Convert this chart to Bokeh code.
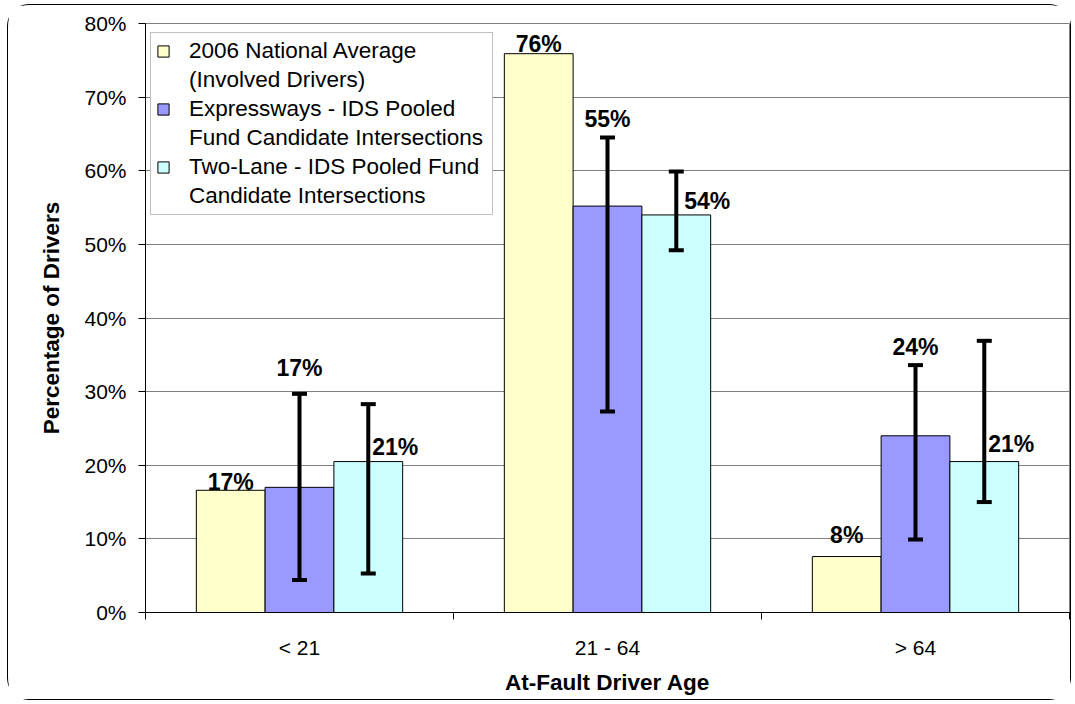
import math
from bokeh.plotting import figure
from bokeh.models import (ColumnDataSource, Range1d, LinearAxis,
                          FixedTicker, NumeralTickFormatter, Whisker, TeeHead, Legend, LegendItem)
from bokeh.transform import dodge
from bokeh.core.properties import value
from bokeh.embed import file_html
from bokeh.resources import INLINE

# ---- data (percent) ----
categories = ["< 21", "21 - 64", "> 64"]
national = [16.6, 75.9, 7.6]
express = [17.0, 55.2, 24.0]
twolane = [20.5, 54.0, 20.5]
express_lo = [4.4, 27.3, 9.9]
express_hi = [29.7, 64.5, 33.6]
twolane_lo = [5.3, 49.2, 15.0]
twolane_hi = [28.3, 59.9, 36.9]
series_names = [["2006 National Average", "(Involved Drivers)"],
                ["Expressways - IDS Pooled", "Fund Candidate Intersections"],
                ["Two-Lane - IDS Pooled Fund", "Candidate Intersections"]]
y_ticks = [0, 10, 20, 30, 40, 50, 60, 70, 80]

FONT = "Liberation Sans"
W, H = 1064, 696
BW = 0.2233

n = len(categories)
centers = [i + 0.5 for i in range(n)]
bounds = list(range(n + 1))


def pct(v):
    return f"{math.floor(v + 0.5)}%"


src = ColumnDataSource(dict(
    xc=centers,
    nat=[v / 100 for v in national],
    exp=[v / 100 for v in express],
    two=[v / 100 for v in twolane],
    exp_lo=[v / 100 for v in express_lo],
    exp_hi=[v / 100 for v in express_hi],
    two_lo=[v / 100 for v in twolane_lo],
    two_hi=[v / 100 for v in twolane_hi],
    nat_lab=[pct(v) for v in national],
    exp_lab=[pct(v) for v in express],
    two_lab=[pct(v) for v in twolane],
))

p = figure(width=W, height=H, output_backend="svg", toolbar_location=None,
           x_range=Range1d(0, n), y_range=Range1d(0, 0.8), x_axis_location=None,
           min_border_left=137, min_border_right=3, min_border_top=18, min_border_bottom=89)
p.styles = {"border": "1px solid black", "border-radius": "22px", "margin": "4px 0 0 7px"}

p.outline_line_color = "#808080"
p.outline_line_width = 1
p.xgrid.grid_line_color = None
p.ygrid.grid_line_color = "#808080"
p.ygrid.ticker = FixedTicker(ticks=[t / 100 for t in y_ticks])

yax = p.yaxis[0]
yax.ticker = FixedTicker(ticks=[t / 100 for t in y_ticks])
yax.formatter = NumeralTickFormatter(format="0%")
yax.axis_line_color = "black"
yax.major_tick_in = 0
yax.major_tick_out = 7
yax.minor_tick_line_color = None
yax.major_label_text_font = FONT
yax.major_label_text_font_size = "21px"
yax.major_label_text_color = "black"
yax.major_label_standoff = 12
yax.axis_label = "Percentage of Drivers"
yax.axis_label_text_font = FONT
yax.axis_label_text_font_size = "22.5px"
yax.axis_label_text_font_style = "bold"
yax.axis_label_text_color = "black"
yax.axis_label_standoff = 17

cat_ax = LinearAxis(ticker=FixedTicker(ticks=centers, minor_ticks=bounds),
                    major_label_overrides={c: lab for c, lab in zip(centers, categories)},
                    axis_line_color="black", major_tick_line_color=None,
                    major_tick_in=0, major_tick_out=0,
                    minor_tick_line_color="black", minor_tick_in=0, minor_tick_out=7,
                    major_label_text_font=FONT, major_label_text_font_size="21px",
                    major_label_text_color="black", major_label_standoff=16,
                    axis_label="At-Fault Driver Age", axis_label_text_font=FONT,
                    axis_label_text_font_size="22.5px", axis_label_text_font_style="bold",
                    axis_label_text_color="black", axis_label_standoff=8)
p.add_layout(cat_ax, "below")

colors = ["#FFFFCC", "#9999FF", "#CCFFFF"]
fields = ["nat", "exp", "two"]
offsets = [-BW, 0, BW]
rends = []
for f, c, o in zip(fields, colors, offsets):
    r = p.vbar(x=dodge("xc", o), top=f, width=BW, source=src,
               fill_color=c, line_color="black", line_width=1)
    rends.append(r)

for lo, hi, o in [("exp_lo", "exp_hi", 0), ("two_lo", "two_hi", BW)]:
    w = Whisker(source=src, base=dodge("xc", o), lower=lo, upper=hi,
                line_color="black", line_width=4, level="overlay",
                upper_head=TeeHead(size=15, line_width=4, line_color="black"),
                lower_head=TeeHead(size=15, line_width=4, line_color="black"))
    p.add_layout(w)

# data labels: anchor field, x offset (px), y offset (px)
label_specs = [
    ("nat", "nat_lab", -BW, [0, 0, 0], [-8, -10, -22]),
    ("exp_hi", "exp_lab", 0, [0, 0, 0], [-26, -19, -18]),
    ("two", "two_lab", BW, [27, 31, 27], [-15, -14, -18]),
]
for anchor, lab, o, xo, yo in label_specs:
    s = ColumnDataSource(dict(xc=centers, y=src.data[anchor], t=src.data[lab], xo=xo, yo=yo))
    p.text(x=dodge("xc", o), y="y", text="t", source=s,
           x_offset="xo", y_offset="yo", text_align="center", text_baseline="middle",
           text_font=value(FONT), text_font_size="23px", text_font_style="bold",
           text_color="black")

# legend: first line carries the swatch, second line is a continuation
items = []
empty = ColumnDataSource(dict(x=[], y=[]))
for (l1, l2), r in zip(series_names, rends):
    items.append(LegendItem(label=l1, renderers=[r]))
    ghost = p.scatter(x="x", y="y", source=empty, size=0, fill_alpha=0, line_alpha=0)
    items.append(LegendItem(label=l2, renderers=[ghost]))

legend = Legend(items=items, location=(5, 397), orientation="vertical",
                label_text_font=FONT, label_text_font_size="22.5px", label_text_color="black",
                glyph_width=14, glyph_height=14, label_standoff=19, spacing=3,
                padding=5, margin=0, label_width=298,
                border_line_color="#808080", border_line_width=1,
                background_fill_color="white", background_fill_alpha=1)
p.add_layout(legend, "center")

open("out.html", "w").write(file_html(p, INLINE))
